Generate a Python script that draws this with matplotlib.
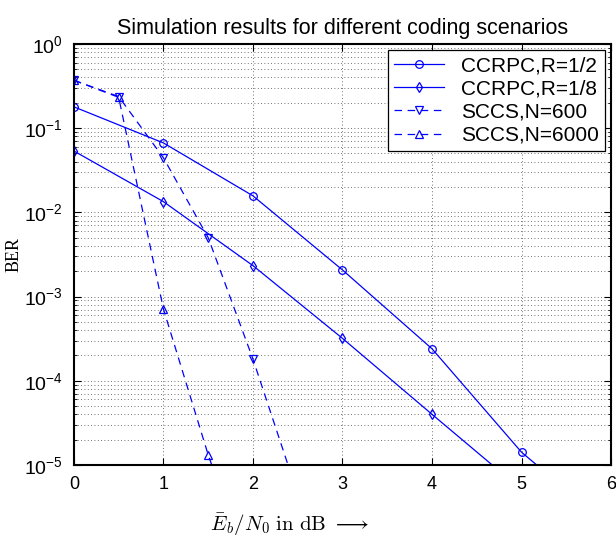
import matplotlib
matplotlib.use("Agg")
import matplotlib.pyplot as plt
from matplotlib.ticker import LogLocator, NullFormatter, FixedLocator

plt.rcParams['font.family'] = ['Liberation Sans', 'DejaVu Sans']
plt.rcParams['mathtext.fontset'] = 'cm'

# Data
ebn0_ccrpc = [0, 1, 2, 3, 4, 5, 6]
ber_ccrpc_12 = [0.179, 0.0667, 0.0157, 0.00207, 2.4e-4, 1.42e-5, 1.8e-6]
ebn0_ccrpc8 = [0, 1, 2, 3, 4, 5]
ber_ccrpc_18 = [0.0535, 0.0134, 0.00233, 3.19e-4, 4.0e-5, 5.1e-6]
ebn0_sccs600 = [0, 0.5, 1, 1.5, 2, 2.5]
ber_sccs_600 = [0.37, 0.237, 0.0444, 0.0050, 1.81e-4, 4.5e-6]
ebn0_sccs6000 = [0, 0.5, 1, 1.5, 2]
ber_sccs_6000 = [0.37, 0.232, 7.1e-4, 1.32e-5, 4e-7]

labels = ['CCRPC,R=1/2', 'CCRPC,R=1/8', 'SCCS,N=600', 'SCCS,N=6000']
xticks = [0, 1, 2, 3, 4, 5, 6]

fig = plt.figure(figsize=(6.16, 5.42), dpi=100)
ax = fig.add_axes([0.120, 0.142, 0.872, 0.777])

blue = (0, 0, 1)
kw = dict(color=blue, lw=0.9, markersize=5.5, markerfacecolor='none', markeredgewidth=0.9)
ax.semilogy(ebn0_ccrpc, ber_ccrpc_12, '-o', label=labels[0], **kw)
ax.semilogy(ebn0_ccrpc8, ber_ccrpc_18, '-d', label=labels[1], **kw)
ax.semilogy(ebn0_sccs600, ber_sccs_600, '--v', label=labels[2], dashes=(6, 4.5), **kw)
ax.semilogy(ebn0_sccs6000, ber_sccs_6000, '--^', label=labels[3], dashes=(6, 4.5), **kw)

ax.set_xlim(0, 6)
ax.set_ylim(1e-5, 1)
ax.xaxis.set_major_locator(FixedLocator(xticks))
ax.yaxis.set_major_locator(LogLocator(base=10, numticks=10))
ax.yaxis.set_minor_locator(LogLocator(base=10, subs=range(2, 10), numticks=20))
ax.yaxis.set_minor_formatter(NullFormatter())

ax.grid(True, which='major', axis='both', linestyle=(0, (1, 3)), color='#444444', lw=0.6)
ax.grid(True, which='minor', axis='y', linestyle=(0, (1, 3)), color='#444444', lw=0.6)

ax.tick_params(which='both', direction='in', top=True, right=True, labelsize=13)
ax.tick_params(which='major', length=5, width=0.8)
ax.tick_params(which='minor', length=2.5, width=0.6)
ax.tick_params(axis='x', pad=8)
ax.tick_params(axis='y', pad=8, labelsize=14)
for s in ax.spines.values():
    s.set_linewidth(1.5)

ax.set_title('Simulation results for different coding scenarios', fontsize=15.5, pad=7)
ax.set_ylabel('BER', fontsize=13, family='Liberation Serif')
ax.set_xlabel(r'$\bar{E}_b/N_0\ \mathrm{in\ dB}\ \longrightarrow$', fontsize=15)
ax.xaxis.set_label_coords(0.402, -0.11)
ax.yaxis.set_label_coords(-0.095, 0.5)

leg = ax.legend(loc='upper right', fontsize=15, numpoints=1, fancybox=False,
                edgecolor='black', framealpha=1, borderaxespad=0.3,
                handlelength=2.4, labelspacing=0.2, borderpad=0.3, handletextpad=0.8)
leg.get_frame().set_linewidth(0.9)

fig.savefig('out.png', dpi=100)
